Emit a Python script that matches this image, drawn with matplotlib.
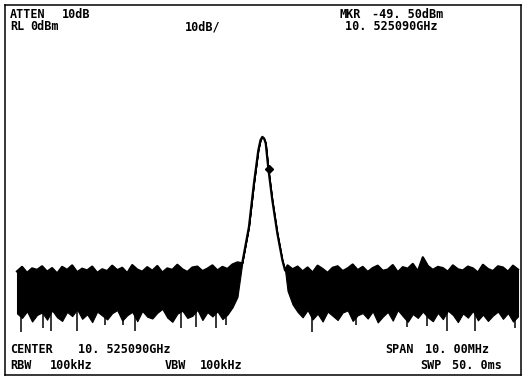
import numpy as np
import matplotlib.pyplot as plt

# Spectrum analyser trace, frequency as offset from centre (MHz), level in dBm
marker_mhz = 0.03
marker_dbm = -49.5

# noise band left of the carrier, 0.1 MHz steps from -5.0 to -0.6
left_mhz = np.round(np.arange(-5.0, -0.55, 0.1), 2)
left_top = [-83.5, -82.0, -84.0, -82.5, -83.0, -81.8, -83.6, -82.4, -84.2, -82.0,
            -83.0, -81.5, -83.8, -82.6, -83.2, -81.9, -84.0, -82.8, -83.4, -81.6,
            -83.1, -82.3, -84.1, -81.4, -82.9, -83.6, -82.1, -83.3, -81.7, -83.9,
            -82.5, -83.0, -81.3, -82.8, -83.7, -82.2, -81.9, -83.4, -82.6, -81.5,
            -83.2, -82.0, -82.7, -81.2, -80.5]
left_bot = [-97.5, -99.0, -96.8, -100.2, -98.0, -97.2, -99.6, -96.5, -98.8, -100.0,
            -97.0, -98.4, -96.2, -99.3, -97.8, -100.4, -96.9, -98.2, -99.5, -97.4,
            -96.4, -99.9, -98.1, -97.0, -100.1, -96.7, -98.6, -99.2, -97.3, -96.0,
            -98.9, -100.3, -97.6, -96.6, -99.0, -98.3, -96.3, -99.7, -97.1, -98.5,
            -96.8, -99.4, -97.9, -95.5, -92.0]

# carrier peak
peak_mhz = [-0.505, -0.371, -0.271, -0.184, -0.14, -0.104, -0.07, -0.036, 0.016,
            0.096, 0.196, 0.297, 0.351]
peak_dbm = [-80.8, -68.7, -54.2, -43.2, -39.8, -38.7, -39.2, -40.8, -49.2,
            -59.8, -70.8, -79.8, -83.2]

# noise band right of the carrier, 0.4 to 5.0 MHz
right_mhz = np.round(np.arange(0.4, 5.05, 0.1), 2)
right_top = [-81.5, -82.8, -81.9, -83.5, -82.2, -83.9, -81.6, -82.7, -84.0, -82.3,
             -81.8, -83.4, -82.5, -81.2, -83.1, -82.0, -83.7, -82.4, -81.6, -83.3,
             -82.9, -81.4, -83.8, -82.1, -82.6, -81.0, -83.5, -78.8, -81.7, -83.0,
             -82.0, -82.4, -83.6, -81.5, -82.8, -83.2, -81.9, -82.5, -83.9, -81.3,
             -82.7, -83.4, -81.8, -82.2, -83.6, -81.6, -82.9]
right_bot = [-90.0, -94.5, -97.0, -98.8, -96.4, -99.5, -97.6, -100.2, -96.9, -98.3,
             -99.7, -97.2, -96.5, -100.0, -98.1, -97.4, -99.2, -96.8, -100.5, -98.6,
             -97.0, -99.9, -96.4, -98.4, -100.3, -97.7, -99.0, -96.9, -98.8, -100.1,
             -97.3, -99.4, -96.6, -98.0, -100.4, -97.5, -98.9, -96.7, -99.8, -97.9,
             -100.0, -98.2, -96.9, -99.3, -97.4, -100.2, -98.5]

# downward noise spikes
spike_mhz = [-4.92, -4.48, -4.32, -3.80, -3.24, -2.88, -2.65, -1.73, -1.43, -1.03, -0.83,
             0.89, 1.77, 2.78, 3.18, 3.58, 4.14, 4.94]
spike_dbm = [-103.8, -102.5, -103.2, -103.2, -101.5, -101.5, -103.2, -102.5, -102.0,
             -102.5, -101.5, -103.8, -101.5, -102.0, -101.8, -103.2, -103.2, -102.5]

x_all = np.concatenate([left_mhz, peak_mhz, right_mhz])
top_all = np.concatenate([left_top, peak_dbm, right_top])
bot_all = np.concatenate([left_bot, peak_dbm, right_bot])

W, H = 525, 379
fig = plt.figure(figsize=(W / 100, H / 100), dpi=100)
ax = fig.add_axes([5 / W, 4 / H, 516 / W, 370 / H])
ax.set_xlim(-5.24, 5.06)
ax.set_ylim(-118.0, 5.2)
ax.set_xticks([])
ax.set_yticks([])
for s in ax.spines.values():
    s.set_linewidth(1.1)

ax.fill_between(x_all, bot_all, top_all, color='black', lw=0.8)
ax.plot(x_all, top_all, color='black', lw=1.6)
ax.vlines(spike_mhz, spike_dbm, -96, color='black', lw=1.1)
ax.plot([marker_mhz], [marker_dbm], 'D', color='black', ms=4)

font = dict(family='DejaVu Sans Mono', weight='bold', size=8.5, color='black')

def put(x, y, s):
    fig.text(x / W, 1 - y / H, s, va='baseline', ha='left', **font)

put(10, 18, 'ATTEN')
put(62, 18, '10dB')
put(340, 18, 'MKR')
put(372, 18, '-49. 50dBm')
put(10, 30, 'RL')
put(30, 30, '0dBm')
put(185, 30, '10dB/')
put(345, 30, '10. 525090GHz')

put(10, 353, 'CENTER')
put(78, 353, '10. 525090GHz')
put(385, 353, 'SPAN')
put(425, 353, '10. 00MHz')
put(10, 369, 'RBW')
put(50, 369, '100kHz')
put(165, 369, 'VBW')
put(200, 369, '100kHz')
put(420, 369, 'SWP')
put(452, 369, '50. 0ms')

plt.savefig('out.png', dpi=100)
